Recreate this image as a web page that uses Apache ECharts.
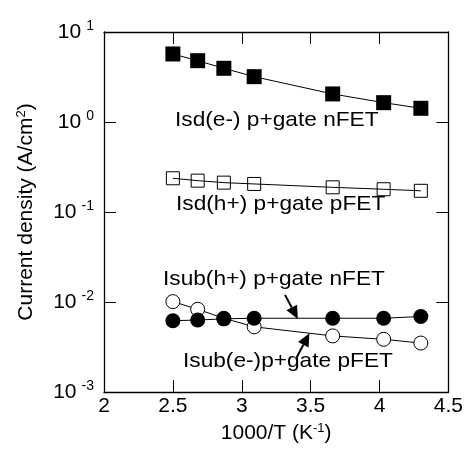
<!DOCTYPE html>
<html>
<head>
<meta charset="utf-8">
<script src="https://cdn.jsdelivr.net/npm/echarts@6/dist/echarts.min.js"></script>
<style>
  html, body { margin: 0; padding: 0; background: #fff; }
  #chart { width: 466px; height: 455px; }
</style>
</head>
<body>
<div id="chart"></div>
<script>
// 1000/T (K^-1) of the measured temperatures
const invT = [2.5, 2.68, 2.87, 3.09, 3.66, 4.03, 4.3]

// current density, A/cm2
const isdNfet = [5.7, 4.8, 3.95, 3.19, 2.05, 1.64, 1.42]        // Isd(e-) p+gate nFET
const isdPfet = [0.237, 0.223, 0.212, 0.205, 0.188, 0.179, 0.172] // Isd(h+) p+gate pFET
const isubNfet = [0.0062, 0.0063, 0.0065, 0.0066, 0.0066, 0.0066, 0.0069] // Isub(h+) p+gate nFET
const isubPfet = [0.0101, 0.0083, 0.0066, 0.0053, 0.0042, 0.00385, 0.0035] // Isub(e-)p+gate pFET

const xTicks = [2, 2.5, 3, 3.5, 4, 4.5]

// annotation text: [text, left px, centre px]
const labels = [
  ['Isd(e-) p+gate nFET', 175, 122],
  ['Isd(h+) p+gate pFET', 176, 206],
  ['Isub(h+) p+gate nFET', 163, 281],
  ['Isub(e-)p+gate pFET', 183, 363],
]
// arrows in data coords: [from, to]
const arrows = [
  [[3.314, 0.0120], [3.407, 0.00647]],
  [[3.40, 0.00245], [3.491, 0.00449]],
]

const FONT = '"Liberation Sans", Arial, sans-serif'
const pairs = (ys) => invT.map((x, i) => [x, ys[i]])

const chart = echarts.init(document.getElementById('chart'))

const tickStyle = { inside: true, length: 12, lineStyle: { color: '#000', width: 1 } }
const lineStyle = { color: '#000', width: 1.3 }

const option = {
  animation: false,
  backgroundColor: '#fff',
  grid: { left: 104, right: 12, top: 32, bottom: 63 },
  xAxis: [{
    type: 'value', min: 2, max: 4.5, interval: 0.5,
    axisLine: { lineStyle },
    axisTick: tickStyle,
    splitLine: { show: false },
    axisLabel: {
      color: '#000', fontFamily: FONT, fontSize: 21, margin: 4,
      formatter: (v) => xTicks.includes(v) ? String(v) : ''
    },
    name: '1000/T (K{s|-1})',
    nameLocation: 'middle', nameGap: 28,
    nameTextStyle: {
      color: '#000', fontFamily: FONT, fontSize: 21,
      rich: { s: { fontSize: 13, fontFamily: FONT, color: '#000', padding: [0, 0, 9, 0] } }
    }
  }, {
    type: 'value', min: 2, max: 4.5, interval: 0.5, position: 'top',
    axisLine: { lineStyle },
    axisTick: tickStyle,
    axisLabel: { show: false },
    splitLine: { show: false }
  }],
  yAxis: [{
    type: 'log', logBase: 10, min: 0.001, max: 10,
    axisLine: { lineStyle },
    axisTick: tickStyle,
    minorTick: { show: false },
    splitLine: { show: false },
    axisLabel: {
      margin: 10,
      formatter: (v) => '{b|10}{e|' + Math.round(Math.log10(v)) + '}',
      rich: {
        b: { fontSize: 21, fontFamily: FONT, color: '#000' },
        e: { fontSize: 14, fontFamily: FONT, color: '#000', padding: [0, 0, 12, 5] }
      }
    },
    name: 'Current density (A/cm{s|2})',
    nameLocation: 'middle', nameGap: 67, nameRotate: 90,
    nameTextStyle: {
      color: '#000', fontFamily: FONT, fontSize: 21,
      rich: { s: { fontSize: 13, fontFamily: FONT, color: '#000', padding: [0, 0, 9, 0] } }
    }
  }, {
    type: 'log', logBase: 10, min: 0.001, max: 10, position: 'right',
    axisLine: { lineStyle },
    axisTick: tickStyle,
    axisLabel: { show: false },
    splitLine: { show: false }
  }],
  series: [
    {
      name: 'Isd(e-) p+gate nFET', type: 'line', data: pairs(isdNfet),
      symbol: 'rect', symbolSize: 15,
      itemStyle: { color: '#000' }, lineStyle: { color: '#000', width: 1 }
    },
    {
      name: 'Isd(h+) p+gate pFET', type: 'line', data: pairs(isdPfet),
      symbol: 'rect', symbolSize: 13,
      itemStyle: { color: 'rgba(255,255,255,0)', borderColor: '#000', borderWidth: 1 },
      lineStyle: { color: '#000', width: 1 }
    },
    {
      name: 'Isub(e-)p+gate pFET', type: 'line', data: pairs(isubPfet),
      symbol: 'circle', symbolSize: 14,
      itemStyle: { color: '#fff', borderColor: '#000', borderWidth: 1 },
      lineStyle: { color: '#000', width: 1 }
    },
    {
      name: 'Isub(h+) p+gate nFET', type: 'line', data: pairs(isubNfet),
      symbol: 'circle', symbolSize: 15,
      itemStyle: { color: '#000' }, lineStyle: { color: '#000', width: 1 }
    }
  ]
}
chart.setOption(option)

// annotations: labels and arrows placed after the axes exist
const graphic = labels.map(([text, x, y]) => ({
  type: 'text', x, y: y - 12, scaleX: 1.08,
  style: { text, fill: '#000', font: '21px ' + FONT, textVerticalAlign: 'top' }
}))
arrows.forEach(([from, to]) => {
  const a = chart.convertToPixel({ gridIndex: 0 }, from)
  const b = chart.convertToPixel({ gridIndex: 0 }, to)
  const dx = b[0] - a[0], dy = b[1] - a[1]
  const len = Math.hypot(dx, dy), ux = dx / len, uy = dy / len
  const hl = 13, hw = 6
  const bx = b[0] - ux * hl, by = b[1] - uy * hl
  graphic.push({
    type: 'line', shape: { x1: a[0], y1: a[1], x2: bx, y2: by },
    style: { stroke: '#000', lineWidth: 2 }, z: 10
  })
  graphic.push({
    type: 'polygon',
    shape: { points: [[b[0], b[1]], [bx - uy * hw, by + ux * hw], [bx + uy * hw, by - ux * hw]] },
    style: { fill: '#000' }, z: 10
  })
})
chart.setOption({ graphic })
</script>
</body>
</html>
